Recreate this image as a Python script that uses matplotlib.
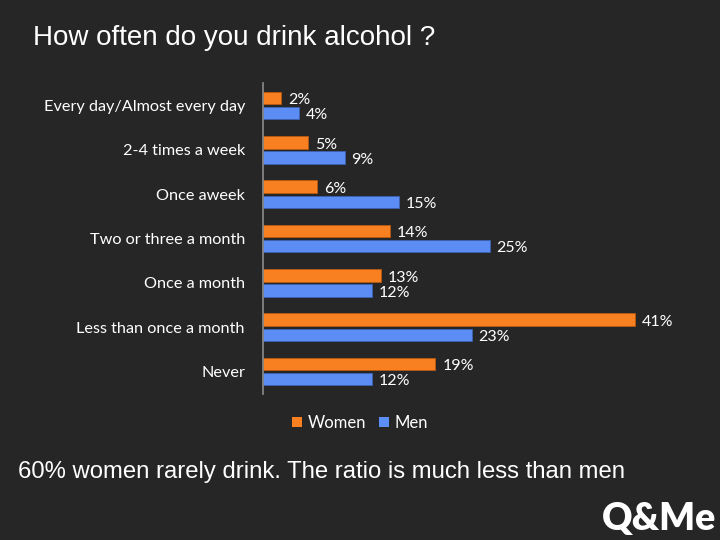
import matplotlib
matplotlib.use("Agg")
import matplotlib.pyplot as plt
from matplotlib.patches import Patch
import numpy as np

# survey answers, top to bottom
categories = ["Every day/Almost every day", "2-4 times a week", "Once aweek",
              "Two or three a month", "Once a month", "Less than once a month", "Never"]
women = [2, 5, 6, 14, 13, 41, 19]
men = [4, 9, 15, 25, 12, 23, 12]

bg = "#262626"
orange = "#F98021"
blue = "#5B8DF4"

fig = plt.figure(figsize=(7.2, 5.4), dpi=100, facecolor=bg)
ax = fig.add_axes([0.3653, 0.2709, 0.5667, 0.5748])
ax.set_facecolor(bg)

y = np.arange(len(categories))
h = 0.28
ax.barh(y - 0.17, women, height=h, color=orange, edgecolor="#b85a12", linewidth=0.6)
ax.barh(y + 0.17, men, height=h, color=blue, edgecolor="#3d62b0", linewidth=0.6)

lab_font = "Lato"
for i in range(len(categories)):
    ax.annotate(f"{women[i]}%", (women[i], y[i] - 0.12), xytext=(5, 0), textcoords="offset points",
                va="center", ha="left", color="white", fontsize=11.5, family=lab_font)
    ax.annotate(f"{men[i]}%", (men[i], y[i] + 0.22), xytext=(5, 0), textcoords="offset points",
                va="center", ha="left", color="white", fontsize=11.5, family=lab_font)

ax.set_xlim(0, 45)
ax.set_ylim(len(categories) - 0.5, -0.5)
ax.set_yticks(y)
ax.set_yticklabels(categories, color="white", fontsize=11.7, family=lab_font)
ax.tick_params(axis="y", length=0, pad=13)
ax.set_xticks([])
for s in ["top", "right", "bottom"]:
    ax.spines[s].set_visible(False)
ax.spines["left"].set_color("#8c8c8c")
ax.spines["left"].set_linewidth(1.2)

handles = [Patch(facecolor=orange, label="Women"), Patch(facecolor=blue, label="Men")]
leg = fig.legend(handles=handles, loc="center", bbox_to_anchor=(360 / 720, 1 - 423 / 540), ncol=2,
                 frameon=False, handlelength=0.6, handleheight=0.6, handletextpad=0.3, columnspacing=0.8,
                 prop={"family": lab_font, "size": 12})
for t in leg.get_texts():
    t.set_color("white")

fig.text(33 / 720, 1 - 38 / 540, "How often do you drink alcohol ?", color="white", fontsize=20,
         family="Liberation Sans", va="center", ha="left")
fig.text(18 / 720, 1 - 472 / 540, "60% women rarely drink. The ratio is much less than men", color="white",
         fontsize=17.2, family="Liberation Sans", va="center", ha="left")
fig.text(716 / 720, 1 - 519 / 540, "Q&Me", color="white", fontsize=27, fontweight="heavy",
         family="Lato", va="center", ha="right")

fig.savefig("out.png", dpi=100, facecolor=bg)
